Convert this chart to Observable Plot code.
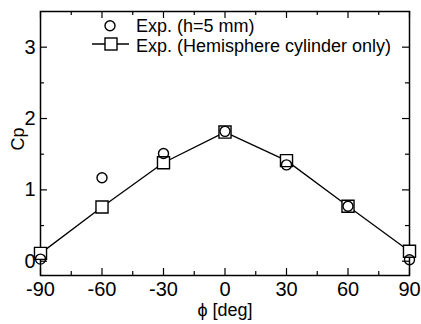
<!DOCTYPE html>
<html>
<head>
<meta charset="utf-8">
<script src="https://cdn.jsdelivr.net/npm/d3@7"></script>
<script src="https://cdn.jsdelivr.net/npm/@observablehq/plot@0.6"></script>
<style>
  html, body { margin: 0; padding: 0; background: #fff; }
  #chart { width: 421px; height: 324px; }
</style>
</head>
<body>
<div id="chart"></div>
<script>
// ---- data ----
const phi = [-90, -60, -30, 0, 30, 60, 90];
const cpH5 = [0.03, 1.17, 1.51, 1.82, 1.35, 0.77, 0.02];      // Exp. (h=5 mm)
const cpHemi = [0.11, 0.76, 1.38, 1.81, 1.41, 0.77, 0.14];    // Exp. (Hemisphere cylinder only)
const xMajor = [-90, -60, -30, 0, 30, 60, 90];
const xMinor = [-75, -45, -15, 15, 45, 75];
const yMajor = [0, 1, 2, 3];
const yMinor = [0.5, 1.5, 2.5];
const legendLabels = ["Exp. (h=5 mm)", "Exp. (Hemisphere cylinder only)"];
const xLabel = "ϕ [deg]";
const yLabel = "Cp";

// ---- layout ----
const W = 421, H = 324;
const mL = 40, mR = 12, mT = 11, mB = 49;
const pw = W - mL - mR, ph = H - mT - mB;
const font = "'Liberation Sans', Arial, Helvetica, sans-serif";
const maj = 7, mnr = 4;

const h5 = phi.map((p, i) => ({phi: p, cp: cpH5[i]}));
const hemi = phi.map((p, i) => ({phi: p, cp: cpHemi[i]}));

const chart = Plot.plot({
  width: W, height: H,
  marginLeft: mL, marginRight: mR, marginTop: mT, marginBottom: mB,
  style: {fontFamily: font, color: "black", background: "white"},
  x: {domain: [-90, 90]},
  y: {domain: [-0.2, 3.5]},
  marks: [
    // inward ticks, all four sides
    Plot.tickX(xMajor, {x: d => d, insetTop: ph - maj, stroke: "black", strokeWidth: 1.2}),
    Plot.tickX(xMajor, {x: d => d, insetBottom: ph - maj, stroke: "black", strokeWidth: 1.2}),
    Plot.tickX(xMinor, {x: d => d, insetTop: ph - mnr, stroke: "black", strokeWidth: 1.2}),
    Plot.tickX(xMinor, {x: d => d, insetBottom: ph - mnr, stroke: "black", strokeWidth: 1.2}),
    Plot.tickY(yMajor, {y: d => d, insetRight: pw - maj, stroke: "black", strokeWidth: 1.2}),
    Plot.tickY(yMajor, {y: d => d, insetLeft: pw - maj, stroke: "black", strokeWidth: 1.2}),
    Plot.tickY(yMinor, {y: d => d, insetRight: pw - mnr, stroke: "black", strokeWidth: 1.2}),
    Plot.tickY(yMinor, {y: d => d, insetLeft: pw - mnr, stroke: "black", strokeWidth: 1.2}),
    Plot.axisX({ticks: xMajor, tickSize: 0, tickPadding: 6, tickFormat: d => String(d), fontSize: 20, label: null}),
    Plot.axisY({ticks: yMajor, tickSize: 0, tickPadding: 5, tickFormat: d => String(d), fontSize: 20, label: null}),
    Plot.frame({stroke: "black", strokeWidth: 1.5}),
    // data
    Plot.line(hemi, {x: "phi", y: "cp", stroke: "black", strokeWidth: 1.3}),
    Plot.dot(hemi, {x: "phi", y: "cp", symbol: "square", r: 6.8, fill: "white", stroke: "black", strokeWidth: 1.4}),
    Plot.dot(h5, {x: "phi", y: "cp", symbol: "circle", r: 5, fill: "none", stroke: "black", strokeWidth: 1.4}),
    // axis titles
    Plot.text([xLabel], {text: d => d, frameAnchor: "bottom", dy: 40, fontSize: 18, fill: "black"}),
    Plot.text([yLabel], {text: d => d, frameAnchor: "left", dx: -22, dy: 7, rotate: -90, fontSize: 18, fill: "black"})
  ]
});

document.getElementById("chart").appendChild(chart);

// ---- legend (inside plot, top-left) ----
const svg = d3.select(chart);
const lg = svg.append("g").attr("font-family", font).attr("font-size", 18)
  .attr("fill", "black").attr("text-anchor", "start");
lg.append("circle").attr("cx", 110).attr("cy", 25.7).attr("r", 5)
  .attr("fill", "none").attr("stroke", "black").attr("stroke-width", 1.4);
lg.append("line").attr("x1", 92).attr("x2", 129).attr("y1", 44).attr("y2", 44)
  .attr("stroke", "black").attr("stroke-width", 1.3);
lg.append("rect").attr("x", 105).attr("y", 38).attr("width", 12).attr("height", 12)
  .attr("fill", "white").attr("stroke", "black").attr("stroke-width", 1.4);
lg.append("text").attr("x", 136).attr("y", 32.3).text(legendLabels[0]);
lg.append("text").attr("x", 136).attr("y", 52.3).text(legendLabels[1]);
</script>
</body>
</html>
